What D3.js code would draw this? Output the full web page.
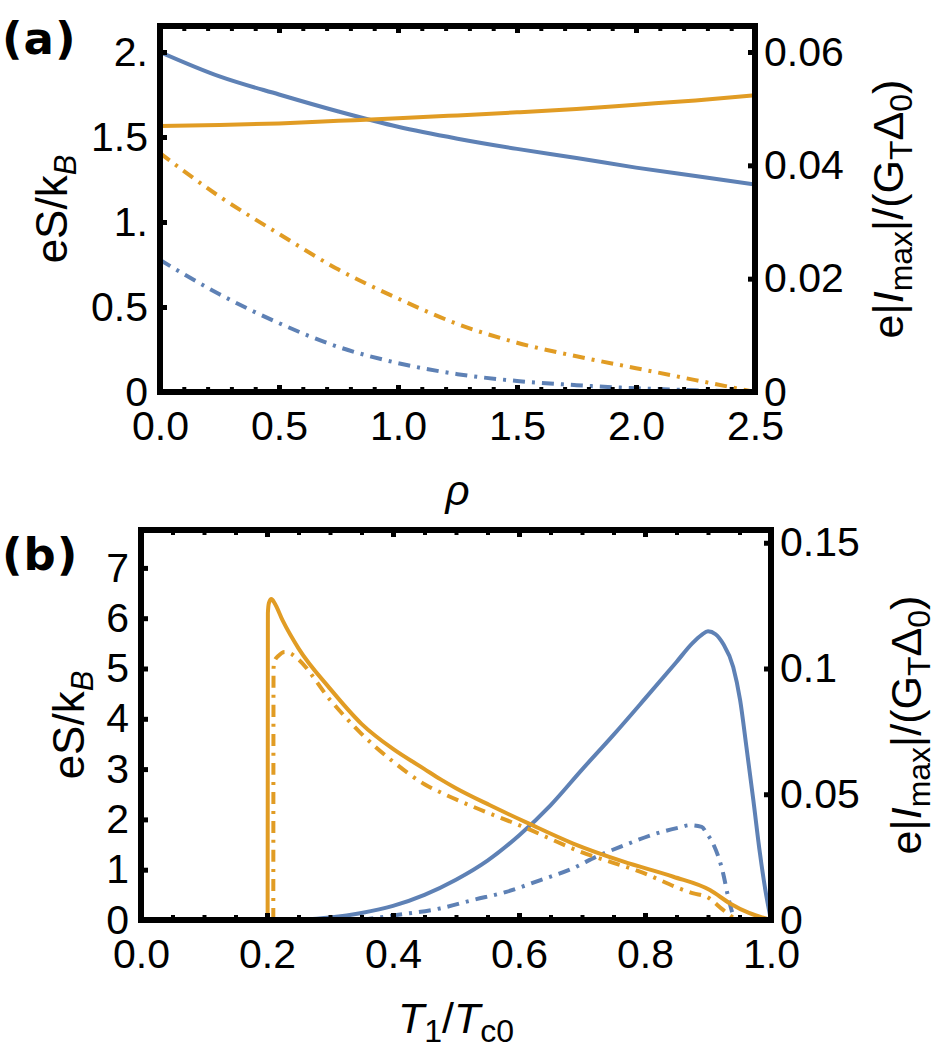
<!DOCTYPE html>
<html>
<head>
<meta charset="utf-8">
<script src="https://cdn.jsdelivr.net/npm/d3@7"></script>
<style>
  body { margin: 0; background: #fff; }
  svg text { font-family: "Liberation Sans", Arial, sans-serif; fill: #000; }
</style>
</head>
<body>
<svg id="fig" width="950" height="1050"></svg>
<script>
// ---- panel (a): against rho ----
const rhoA = [0, 0.25, 0.5, 0.75, 1.0, 1.25, 1.5, 1.75, 2.0, 2.25, 2.5];
// orange = eS/kB (left axis)
const aSsolid = [1.565, 1.57, 1.58, 1.595, 1.61, 1.627, 1.645, 1.665, 1.69, 1.715, 1.745];
const aSdash  = [1.405, 1.15, 0.93, 0.72, 0.55, 0.40, 0.29, 0.21, 0.14, 0.07, 0.0];
// blue = e|Imax|/(GT D0) (right axis)
const aIsolid = [0.0600, 0.0557, 0.0525, 0.0495, 0.0468, 0.0447, 0.0429, 0.0413, 0.0396, 0.0381, 0.0366];
const aIdash  = [0.0233, 0.01725, 0.01215, 0.00795, 0.0051, 0.00315, 0.00195, 0.0012, 0.00066, 0.0003, 0.0001];

const aXTicks = [0, 0.5, 1.0, 1.5, 2.0, 2.5];
const aXLabels = ["0.0", "0.5", "1.0", "1.5", "2.0", "2.5"];
const aXMinor = d3.range(0, 2.51, 0.1);
const aYLTicks = [0, 0.5, 1, 1.5, 2];
const aYLLabels = ["0", "0.5", "1.", "1.5", "2."];
const aYRTicks = [0, 0.02, 0.04, 0.06];
const aYRLabels = ["0", "0.02", "0.04", "0.06"];

// ---- panel (b): against T1/Tc0 ----
const bSsolidT = [0.201, 0.2014, 0.203, 0.207, 0.212, 0.225, 0.25, 0.3, 0.35, 0.4, 0.45, 0.475, 0.5, 0.554, 0.615, 0.686, 0.766, 0.845, 0.903, 0.935, 0.965, 1.0];
const bSsolid  = [0, 6.1, 6.3, 6.38, 6.3, 5.95, 5.4, 4.6, 3.9, 3.4, 3.0, 2.8, 2.62, 2.28, 1.92, 1.52, 1.16, 0.86, 0.595, 0.33, 0.14, 0];
const bSdashT  = [0.21, 0.2104, 0.212, 0.218, 0.228, 0.24, 0.25, 0.3, 0.35, 0.4, 0.45, 0.48, 0.5275, 0.607, 0.697, 0.792, 0.877, 0.898, 0.924, 0.945];
const bSdash   = [0, 5.0, 5.15, 5.25, 5.33, 5.28, 5.18, 4.38, 3.7, 3.15, 2.7, 2.51, 2.25, 1.85, 1.36, 0.96, 0.53, 0.46, 0.2, 0];
const bIsolidT = [0.25, 0.3, 0.35, 0.4, 0.45, 0.5, 0.55, 0.6, 0.65, 0.7, 0.75, 0.8, 0.85, 0.875, 0.89, 0.9, 0.912, 0.924, 0.94, 0.951, 0.961, 0.972, 0.9825, 0.991, 1.0];
const bIsolid  = [0, 0.001, 0.0028, 0.0056, 0.01, 0.016, 0.0236, 0.0336, 0.0456, 0.0598, 0.0736, 0.088, 0.1026, 0.11, 0.1134, 0.1148, 0.1136, 0.1098, 0.1006, 0.0874, 0.0688, 0.0476, 0.0264, 0.012, 0];
const bIdashT  = [0.35, 0.4, 0.4746, 0.5275, 0.58, 0.633, 0.686, 0.723, 0.766, 0.818, 0.855, 0.871, 0.89, 0.898, 0.908, 0.924, 0.932, 0.94, 0.945];
const bIdash   = [0, 0.0018, 0.0046, 0.008, 0.0112, 0.0158, 0.0206, 0.0252, 0.0296, 0.0344, 0.0368, 0.0377, 0.037, 0.0344, 0.0304, 0.0186, 0.0092, 0.002, 0];

const bXTicks = [0, 0.2, 0.4, 0.6, 0.8, 1.0];
const bXLabels = ["0.0", "0.2", "0.4", "0.6", "0.8", "1.0"];
const bXMinor = d3.range(0, 1.001, 0.05);
const bYLTicks = [0, 1, 2, 3, 4, 5, 6, 7];
const bYLLabels = ["0", "1", "2", "3", "4", "5", "6", "7"];
const bYRTicks = [0, 0.05, 0.1, 0.15];
const bYRLabels = ["0", "0.05", "0.1", "0.15"];

const BLUE = "#5e81b5", ORANGE = "#e19c24";
const DASHDOT = "12,7,3,7";
const FS = 41;

const svg = d3.select("#fig");

function drawPanel(p) {
  const g = svg.append("g");
  const x = d3.scaleLinear().domain(p.xDomain).range([p.left, p.right]);
  const yL = d3.scaleLinear().domain(p.yLDomain).range([p.bottom, p.top]);
  const yR = d3.scaleLinear().domain(p.yRDomain).range([p.bottom, p.top]);

  g.append("clipPath").attr("id", p.id + "clip")
    .append("rect")
    .attr("x", p.left).attr("y", p.top)
    .attr("width", p.right - p.left).attr("height", p.bottom - p.top);

  const plot = g.append("g").attr("clip-path", `url(#${p.id}clip)`);
  p.series.forEach(s => {
    const y = s.axis === "R" ? yR : yL;
    const line = d3.line()
      .x(d => x(d[0]))
      .y(d => y(d[1]))
      .curve(d3.curveMonotoneX);
    plot.append("path")
      .datum(d3.zip(s.xs, s.ys))
      .attr("d", line)
      .attr("fill", "none")
      .attr("stroke", s.color)
      .attr("stroke-width", 4)
      .attr("stroke-dasharray", s.dash ? DASHDOT : null);
  });

  // frame
  g.append("rect")
    .attr("x", p.left).attr("y", p.top)
    .attr("width", p.right - p.left).attr("height", p.bottom - p.top)
    .attr("fill", "none").attr("stroke", "#000").attr("stroke-width", 6);

  function styleAxis(sel, w) {
    sel.select(".domain").remove();
    sel.selectAll(".tick line").attr("stroke", "#000").attr("stroke-width", w);
    sel.selectAll("text")
      .attr("font-size", FS)
      .attr("font-family", '"Liberation Sans", Arial, sans-serif')
      .attr("fill", "#000");
    sel.attr("font-family", null).attr("font-size", null);
  }

  // minor x ticks, bottom and top
  g.append("g").attr("transform", `translate(0,${p.bottom})`)
    .call(d3.axisBottom(x).tickValues(p.xMinor).tickSize(-5).tickFormat(""))
    .call(s => styleAxis(s, 4));
  g.append("g").attr("transform", `translate(0,${p.top})`)
    .call(d3.axisTop(x).tickValues(p.xMinor).tickSize(-5).tickFormat(""))
    .call(s => styleAxis(s, 4));
  // major x ticks
  g.append("g").attr("transform", `translate(0,${p.bottom})`)
    .call(d3.axisBottom(x).tickValues(p.xTicks).tickSize(-7).tickPadding(19)
      .tickFormat((d, i) => p.xLabels[i]))
    .call(s => styleAxis(s, 5));
  g.append("g").attr("transform", `translate(0,${p.top})`)
    .call(d3.axisTop(x).tickValues(p.xTicks).tickSize(-7).tickFormat(""))
    .call(s => styleAxis(s, 5));
  // left / right
  g.append("g").attr("transform", `translate(${p.left},0)`)
    .call(d3.axisLeft(yL).tickValues(p.yLTicks).tickSize(-7).tickPadding(12)
      .tickFormat((d, i) => p.yLLabels[i]))
    .call(s => styleAxis(s, 5));
  g.append("g").attr("transform", `translate(${p.right},0)`)
    .call(d3.axisRight(yR).tickValues(p.yRTicks).tickSize(-7).tickPadding(9)
      .tickFormat((d, i) => p.yRLabels[i]))
    .call(s => styleAxis(s, 5));

  // panel tag
  g.append("text")
    .attr("x", 2).attr("y", p.tagY)
    .attr("font-size", 45).attr("font-weight", "bold")
    .style("font-family", '"DejaVu Sans", sans-serif')
    .attr("letter-spacing", 1)
    .text(p.tag);

  // left y label eS/kB
  const cy = (p.top + p.bottom) / 2;
  const tl = g.append("text")
    .attr("transform", `translate(${p.yLabelX},${cy}) rotate(-90)`)
    .attr("text-anchor", "middle").attr("font-size", 44);
  tl.append("tspan").text("eS/k");
  tl.append("tspan").attr("font-style", "italic").attr("font-size", 31).attr("dy", 9).text("B");

  // right y label e|Imax|/(GT Δ0)
  const tr = g.append("text")
    .attr("transform", `translate(${p.yRLabelX},${cy}) rotate(-90)`)
    .attr("text-anchor", "middle").attr("font-size", 43);
  tr.append("tspan").text("e|");
  tr.append("tspan").attr("font-style", "italic").text("I");
  tr.append("tspan").attr("font-size", 32).attr("dy", 9).text("max");
  tr.append("tspan").attr("dy", -9).text("|/(G");
  tr.append("tspan").attr("font-size", 32).attr("dy", 9).text("T");
  tr.append("tspan").attr("dy", -9).text("Δ");
  tr.append("tspan").attr("font-size", 32).attr("dy", 9).text("0");
  tr.append("tspan").attr("dy", -9).text(")");

  p.xLabel(g, (p.left + p.right) / 2);
}

drawPanel({
  id: "a", tag: "(a)", tagY: 54,
  left: 160, right: 755, top: 26, bottom: 392,
  xDomain: [0, 2.5], yLDomain: [0, 366 / 170], yRDomain: [0, 366 / 170 * 0.03],
  xTicks: aXTicks, xLabels: aXLabels, xMinor: aXMinor,
  yLTicks: aYLTicks, yLLabels: aYLLabels, yRTicks: aYRTicks, yRLabels: aYRLabels,
  yLabelX: 67, yRLabelX: 903,
  series: [
    { xs: rhoA, ys: aIsolid, axis: "R", color: BLUE },
    { xs: rhoA, ys: aIdash, axis: "R", color: BLUE, dash: true },
    { xs: rhoA, ys: aSsolid, axis: "L", color: ORANGE },
    { xs: rhoA, ys: aSdash, axis: "L", color: ORANGE, dash: true }
  ],
  xLabel: (g, cx) => {
    g.append("text").attr("x", cx).attr("y", 505)
      .attr("text-anchor", "middle").attr("font-size", 42)
      .attr("font-style", "italic").text("ρ");
  }
});

drawPanel({
  id: "b", tag: "(b)", tagY: 570,
  left: 141, right: 771, top: 530, bottom: 920,
  xDomain: [0, 1], yLDomain: [0, 390 / 50.3], yRDomain: [0, 390 / 50.3 * 0.02],
  xTicks: bXTicks, xLabels: bXLabels, xMinor: bXMinor,
  yLTicks: bYLTicks, yLLabels: bYLLabels, yRTicks: bYRTicks, yRLabels: bYRLabels,
  yLabelX: 84, yRLabelX: 921,
  series: [
    { xs: bIsolidT, ys: bIsolid, axis: "R", color: BLUE },
    { xs: bIdashT, ys: bIdash, axis: "R", color: BLUE, dash: true },
    { xs: bSsolidT, ys: bSsolid, axis: "L", color: ORANGE },
    { xs: bSdashT, ys: bSdash, axis: "L", color: ORANGE, dash: true }
  ],
  xLabel: (g, cx) => {
    const t = g.append("text").attr("x", cx).attr("y", 1033)
      .attr("text-anchor", "middle").attr("font-size", 43);
    t.append("tspan").attr("font-style", "italic").text("T");
    t.append("tspan").attr("font-size", 32).attr("dy", 9).text("1");
    t.append("tspan").attr("dy", -9).text("/");
    t.append("tspan").attr("font-style", "italic").text("T");
    t.append("tspan").attr("font-size", 32).attr("dy", 9).text("c0");
  }
});
</script>
</body>
</html>
